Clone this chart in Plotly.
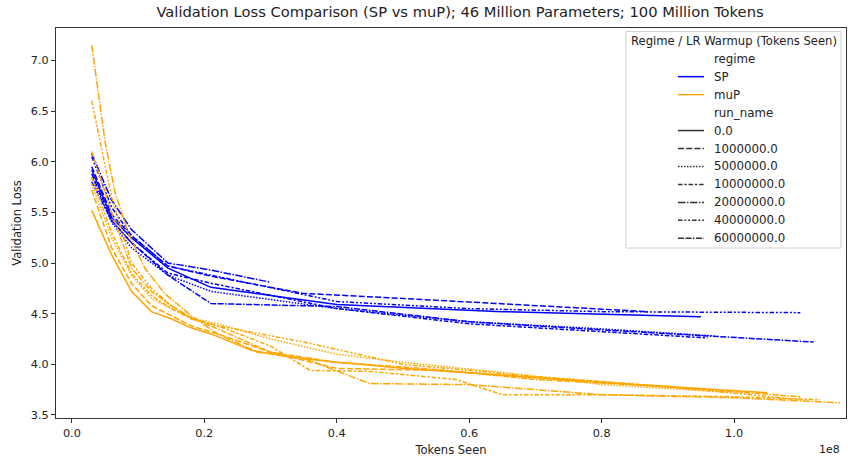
import plotly.graph_objects as go

# ---- data (tokens seen in units of 1e8, validation loss) ----
regimes = ["SP", "muP"]
run_names = ["0.0", "1000000.0", "5000000.0", "10000000.0", "20000000.0", "40000000.0", "60000000.0"]

sp_x = {
    "0.0":        [0.03, 0.06, 0.09, 0.145, 0.21, 0.40, 0.65, 0.95],
    "1000000.0":  [0.03, 0.06, 0.09, 0.145, 0.21, 0.35, 0.50, 0.70, 0.87],
    "5000000.0":  [0.03, 0.06, 0.09, 0.145, 0.21, 0.40, 0.60, 0.80, 0.97],
    "10000000.0": [0.03, 0.06, 0.09, 0.145, 0.21, 0.40, 0.60, 0.80, 0.96],
    "20000000.0": [0.03, 0.06, 0.09, 0.145, 0.21, 0.30],
    "40000000.0": [0.03, 0.06, 0.09, 0.145, 0.21, 0.40, 0.60, 0.80, 1.10],
    "60000000.0": [0.03, 0.06, 0.09, 0.145, 0.21, 0.40, 0.60, 0.80, 1.12],
}
sp_y = {
    "0.0":        [5.92, 5.45, 5.25, 4.95, 4.76, 4.59, 4.52, 4.47],
    "1000000.0":  [5.95, 5.48, 5.27, 4.97, 4.87, 4.70, 4.65, 4.58, 4.52],
    "5000000.0":  [5.85, 5.40, 5.15, 4.88, 4.72, 4.55, 4.42, 4.35, 4.28],
    "10000000.0": [5.80, 5.42, 5.20, 4.90, 4.80, 4.55, 4.40, 4.32, 4.26],
    "20000000.0": [6.08, 5.62, 5.33, 5.00, 4.93, 4.81],
    "40000000.0": [6.05, 5.55, 5.27, 4.97, 4.88, 4.62, 4.55, 4.52, 4.51],
    "60000000.0": [5.88, 5.42, 5.20, 4.88, 4.60, 4.57, 4.42, 4.34, 4.22],
}
mup_x = {
    "0.0":        [0.03, 0.06, 0.09, 0.12, 0.15, 0.18, 0.21, 0.27, 0.33, 0.40, 0.50, 0.65, 0.85, 1.05],
    "1000000.0":  [0.03, 0.06, 0.09, 0.12, 0.15, 0.18, 0.22, 0.30, 0.40, 0.55, 0.75, 0.95],
    "5000000.0":  [0.03, 0.06, 0.09, 0.12, 0.15, 0.18, 0.22, 0.30, 0.40, 0.50, 0.65, 0.80, 1.00],
    "10000000.0": [0.03, 0.06, 0.09, 0.12, 0.15, 0.18, 0.22, 0.30, 0.36, 0.45, 0.58, 0.65, 0.80, 1.00, 1.13],
    "20000000.0": [0.03, 0.05, 0.065, 0.085, 0.11, 0.14, 0.18, 0.22, 0.28, 0.35, 0.45, 0.60, 0.80, 1.00, 1.16],
    "40000000.0": [0.03, 0.06, 0.09, 0.12, 0.15, 0.18, 0.22, 0.35, 0.50, 0.70, 0.90, 1.10],
    "60000000.0": [0.03, 0.06, 0.09, 0.12, 0.15, 0.18, 0.22, 0.30, 0.40, 0.55, 0.70, 0.90, 1.10],
}
mup_y = {
    "0.0":        [5.52, 5.08, 4.72, 4.52, 4.45, 4.36, 4.30, 4.14, 4.07, 4.02, 3.96, 3.89, 3.80, 3.72],
    "1000000.0":  [5.72, 5.15, 4.80, 4.58, 4.48, 4.38, 4.30, 4.12, 3.96, 3.94, 3.85, 3.75],
    "5000000.0":  [5.78, 5.25, 4.88, 4.65, 4.55, 4.46, 4.40, 4.25, 4.10, 4.02, 3.92, 3.80, 3.72],
    "10000000.0": [5.85, 5.30, 4.90, 4.68, 4.55, 4.45, 4.38, 4.18, 3.94, 3.93, 3.85, 3.70, 3.70, 3.68, 3.65],
    "20000000.0": [7.15, 6.20, 5.70, 5.30, 4.95, 4.70, 4.48, 4.30, 4.12, 4.06, 3.81, 3.80, 3.70, 3.67, 3.62],
    "40000000.0": [6.60, 5.65, 5.00, 4.75, 4.58, 4.45, 4.38, 4.22, 4.00, 3.88, 3.78, 3.65],
    "60000000.0": [6.10, 5.50, 4.95, 4.72, 4.58, 4.46, 4.35, 4.12, 4.02, 3.95, 3.85, 3.78, 3.68],
}

x_ticks = [0.0, 0.2, 0.4, 0.6, 0.8, 1.0]
y_ticks = [3.5, 4.0, 4.5, 5.0, 5.5, 6.0, 6.5, 7.0]

# ---- styles ----
colors = {"SP": "#0000ff", "muP": "#ffa500"}
lw = 1.5
dashes = {
    "0.0": "solid",
    "1000000.0": "6px,2.25px",
    "5000000.0": "1.5px,1.5px",
    "10000000.0": "4.5px,1.9px,2.25px,1.9px",
    "20000000.0": "7.5px,1.5px,1.5px,1.5px",
    "40000000.0": "4.5px,1.9px,1.9px,1.9px,1.9px,1.9px",
    "60000000.0": "6px,1.5px,6px,1.5px,1.5px,1.5px",
}

W, H = 848, 458
L, R, T, B = 56, 2, 28, 40
PW, PH = W - L - R, H - T - B


def fx(px):
    return (px - L) / PW


def fy(py):
    return (H - B - py) / PH


fig = go.Figure()
for regime, xs, ys in [("SP", sp_x, sp_y), ("muP", mup_x, mup_y)]:
    for rn in run_names:
        fig.add_trace(go.Scatter(
            x=xs[rn], y=ys[rn], mode="lines", showlegend=False,
            line=dict(color=colors[regime], width=lw, dash=dashes[rn]),
            hoverinfo="skip"))

# ---- legend (matplotlib/seaborn style, centred entries) ----
shapes = [dict(type="rect", xref="paper", yref="paper",
               x0=fx(626), x1=fx(841), y0=fy(248), y1=fy(31.5),
               line=dict(color="#d0d0d0", width=1), fillcolor="rgba(255,255,255,0.8)", layer="above")]
annotations = [dict(text="Regime / LR Warmup (Tokens Seen)", xref="paper", yref="paper",
                    x=fx(733.5), y=fy(40.7), xanchor="center", yanchor="middle",
                    showarrow=False, font=dict(size=11.6, color="#222222"))]
entries = [("regime", None, None)] + [(r, colors[r], "solid") for r in regimes] + \
          [("run_name", None, None)] + [(rn, "#333333", dashes[rn]) for rn in run_names]
for i, (label, col, dsh) in enumerate(entries):
    ypx = 58.7 + i * 17.96
    annotations.append(dict(text=label, xref="paper", yref="paper", x=fx(712), y=fy(ypx),
                            xanchor="left", yanchor="middle", showarrow=False,
                            font=dict(size=11.8, color="#222222")))
    if col is not None:
        shapes.append(dict(type="line", xref="paper", yref="paper",
                           x0=fx(678), x1=fx(704), y0=fy(ypx), y1=fy(ypx),
                           line=dict(color=col, width=lw, dash=dsh), layer="above"))

annotations.append(dict(text="1e8", x=1.0, y=0, xref="paper", yref="paper",
                        xanchor="right", yanchor="top", yshift=-23, xshift=-4, showarrow=False,
                        font=dict(size=11, color="#222222")))

axis_common = dict(
    showgrid=False, zeroline=False, showline=True, linecolor="#333333", linewidth=1,
    mirror=True, ticks="outside", ticklen=4, tickcolor="#333333",
    tickfont=dict(size=11.3, color="#222222"),
)

fig.update_layout(
    width=W, height=H,
    margin=dict(l=L, r=R, t=T, b=B),
    paper_bgcolor="white", plot_bgcolor="white",
    font=dict(family="DejaVu Sans", color="#222222"),
    showlegend=False,
    title=dict(text="Validation Loss Comparison (SP vs muP); 46 Million Parameters; 100 Million Tokens",
               xref="paper", x=fx(460), xanchor="center", y=0.985, yanchor="top", font=dict(size=14.7)),
    xaxis=dict(range=[-0.024, 1.169], tickvals=x_ticks, tickformat=".1f",
               title=dict(text="Tokens Seen", font=dict(size=11.5), standoff=7), **axis_common),
    yaxis=dict(range=[3.47, 7.32], tickvals=y_ticks, tickformat=".1f",
               title=dict(text="Validation Loss", font=dict(size=11.5), standoff=6), **axis_common),
    shapes=shapes,
    annotations=annotations,
)

fig.write_html("out.html")
